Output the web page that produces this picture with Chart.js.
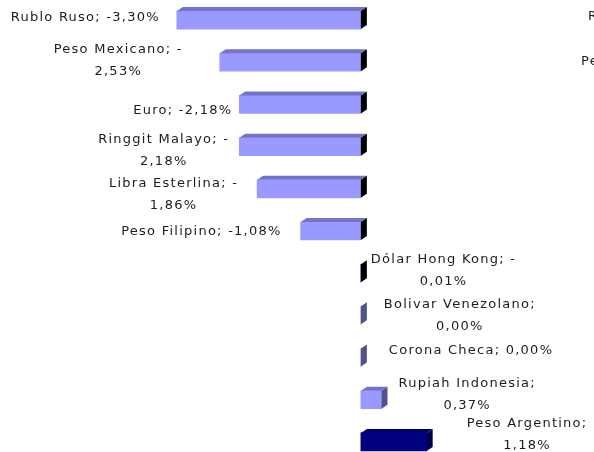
<!DOCTYPE html>
<html>
<head>
<meta charset="utf-8">
<script src="https://cdn.jsdelivr.net/npm/chart.js@4.4.0/dist/chart.umd.min.js"></script>
<style>
  html, body { margin: 0; padding: 0; background: #fff; overflow: hidden; }
  body { width: 594px; height: 452px; position: relative; }
  #wrap { position: absolute; left: 0; top: -1px; width: 594px; height: 464px; }
  .cut { position: absolute; font-family: "DejaVu Sans"; font-size: 13px; line-height: 22px;
         letter-spacing: 1.25px; color: #1c1c1c; white-space: nowrap; }
</style>
</head>
<body>
<div id="wrap"><canvas id="bars"></canvas></div>
<!-- labels of the neighbouring chart, cut off by the window edge -->
<span class="cut" style="left:588px;top:5px">Rublo Ruso; -3,30%</span>
<span class="cut" style="left:581px;top:50px">Peso Mexicano; -</span>
<script>
const currencies = [
  'Rublo Ruso', 'Peso Mexicano', 'Euro', 'Ringgit Malayo', 'Libra Esterlina',
  'Peso Filipino', 'Dólar Hong Kong', 'Bolivar Venezolano', 'Corona Checa',
  'Rupiah Indonesia', 'Peso Argentino'
];
const changes = [-3.30, -2.53, -2.18, -2.18, -1.86, -1.08, -0.01, 0.00, 0.00, 0.37, 1.18];

// front / top / side colours of the 3d bars
const frontColors = currencies.map(c => c === 'Peso Argentino' ? '#000080' : '#9999ff');
const topColors = currencies.map(c => c === 'Peso Argentino' ? '#00006c' : '#7373c8');
const sideColors = changes.map((v, i) =>
  currencies[i] === 'Peso Argentino' ? '#00004c' : (v < 0 ? '#000000' : '#53538a'));

// gap between bar end and label, and vertical nudge (excel placed them by hand)
const labelGap = [17, 37, 7, 10, 19, 19, 4, 17, 22, 11, 34];
const labelNudge = [-2, -2, 6, 4, 6, 1, -2.5, 0, -7, -5.5, -7.5];

const fmt = v => v.toFixed(2).replace('.', ',') + '%';

const bars3d = {
  id: 'bars3d',
  afterDatasetsDraw(chart, args, opts) {
    const ctx = chart.ctx;
    const dx = opts.depthX, dy = opts.depthY;
    ctx.save();
    chart.getDatasetMeta(0).data.forEach((bar, i) => {
      const p = bar.getProps(['x', 'y', 'base', 'height'], true);
      const left = Math.min(p.x, p.base), right = Math.max(p.x, p.base);
      const top = p.y - p.height / 2, bottom = p.y + p.height / 2;
      if (right - left > 1) {
        ctx.fillStyle = topColors[i];
        ctx.beginPath();
        ctx.moveTo(left, top);
        ctx.lineTo(left + dx, top - dy);
        ctx.lineTo(right + dx, top - dy);
        ctx.lineTo(right, top);
        ctx.closePath();
        ctx.fill();
      }
      ctx.fillStyle = sideColors[i];
      ctx.beginPath();
      ctx.moveTo(right, top);
      ctx.lineTo(right + dx, top - dy);
      ctx.lineTo(right + dx, bottom - dy);
      ctx.lineTo(right, bottom);
      ctx.closePath();
      ctx.fill();
    });
    ctx.restore();
  }
};

const barLabels = {
  id: 'barLabels',
  afterDraw(chart, args, opts) {
    const ctx = chart.ctx;
    ctx.save();
    ctx.font = '13px "DejaVu Sans"';
    if ('letterSpacing' in ctx) ctx.letterSpacing = '1.25px';
    ctx.fillStyle = '#1c1c1c';
    ctx.textAlign = 'center';
    ctx.textBaseline = 'middle';
    chart.getDatasetMeta(0).data.forEach((bar, i) => {
      const v = changes[i];
      const full = currencies[i] + '; ' + fmt(v);
      let lines = [full];
      if (ctx.measureText(full).width > opts.wrapWidth) {
        lines = v < 0
          ? [currencies[i] + '; -', fmt(Math.abs(v))]
          : [currencies[i] + ';', fmt(v)];
      }
      const w = Math.max(...lines.map(l => ctx.measureText(l).width));
      const p = bar.getProps(['x', 'y', 'base'], true);
      const left = Math.min(p.x, p.base), right = Math.max(p.x, p.base);
      let cx;
      // tiny bars get their label on the right, like the others near zero
      if (v < 0 && right - left > 3) {
        cx = left - labelGap[i] - w / 2;
      } else {
        cx = right + opts.depthX + labelGap[i] + w / 2;
      }
      const cy = p.y + labelNudge[i];
      lines.forEach((l, k) => {
        ctx.fillText(l, cx, cy + (k - (lines.length - 1) / 2) * opts.lineHeight);
      });
    });
    ctx.restore();
  }
};

new Chart(document.getElementById('bars'), {
  type: 'bar',
  data: {
    labels: currencies,
    datasets: [{
      data: changes,
      backgroundColor: frontColors,
      borderWidth: 0,
      barThickness: 18
    }]
  },
  options: {
    indexAxis: 'y',
    responsive: true,
    maintainAspectRatio: false,
    animation: false,
    layout: { padding: 0 },
    scales: {
      x: { display: false, min: -6.47, max: 4.18 },
      y: { display: false }
    },
    plugins: {
      legend: { display: false },
      tooltip: { enabled: false },
      bars3d: { depthX: 6, depthY: 4 },
      barLabels: { wrapWidth: 170, lineHeight: 22, depthX: 6 }
    }
  },
  plugins: [bars3d, barLabels]
});
</script>
</body>
</html>
